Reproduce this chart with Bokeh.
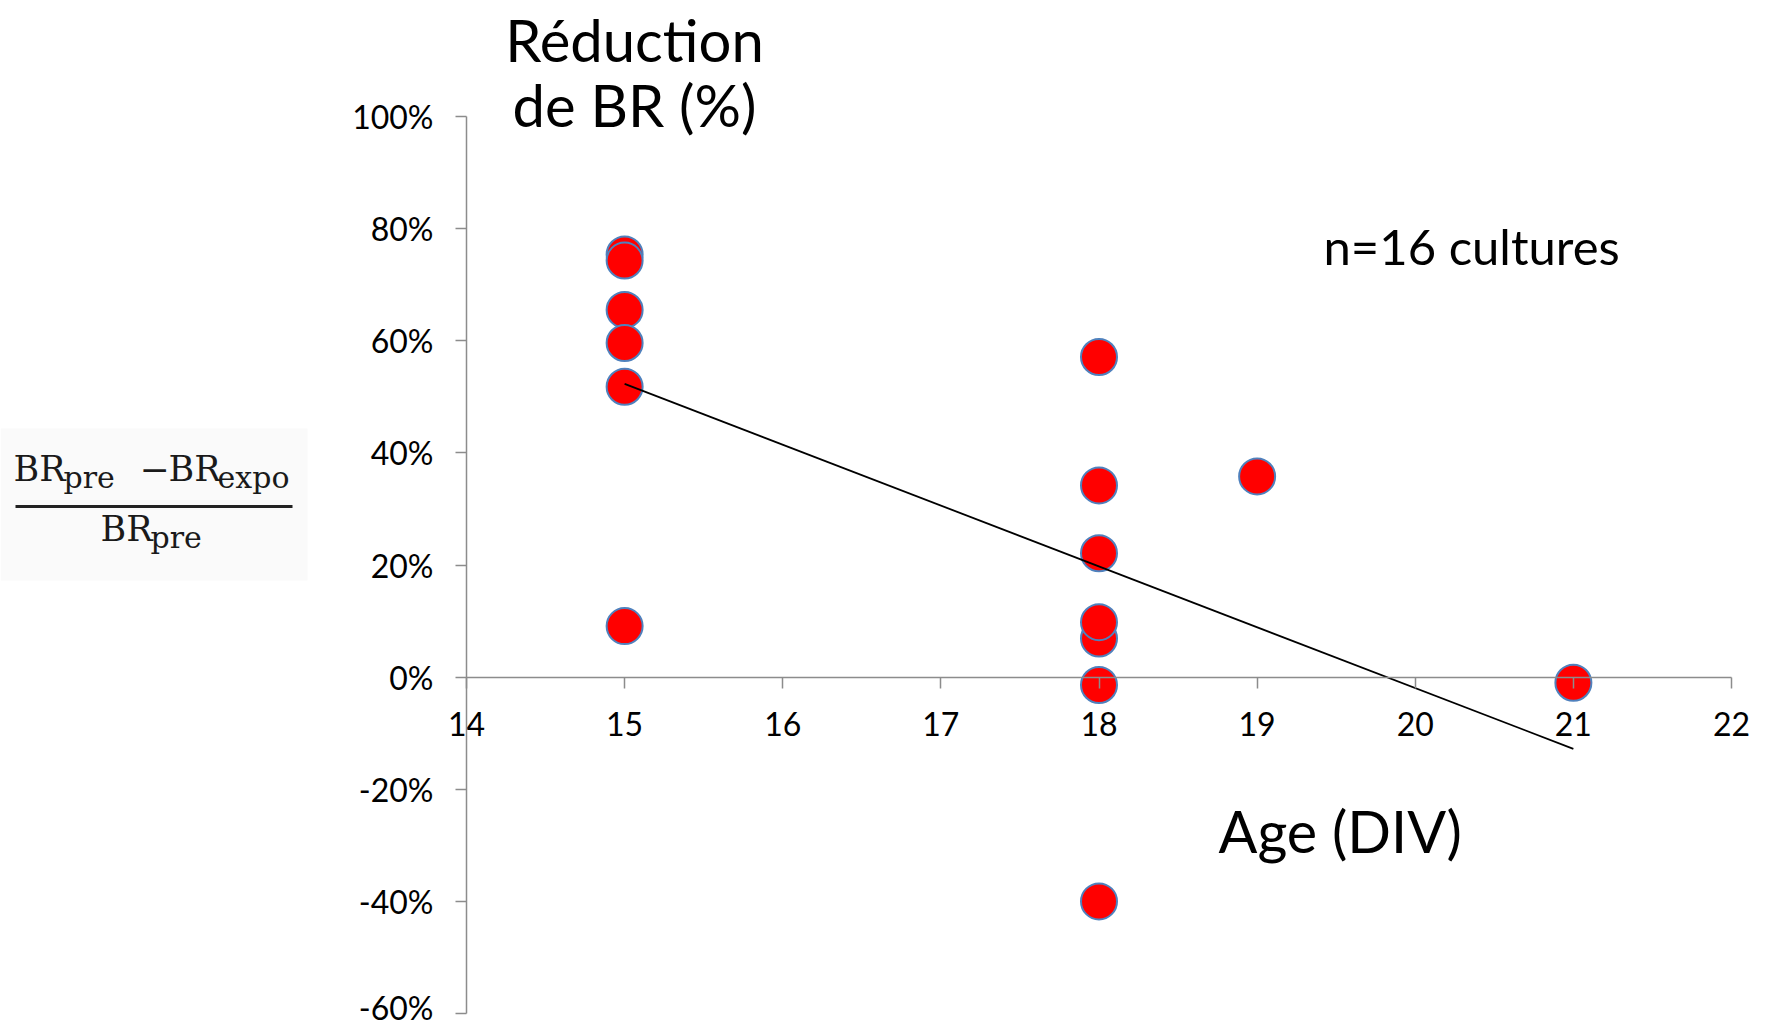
from bokeh.plotting import figure
from bokeh.models import Range1d, FixedTicker, NumeralTickFormatter, Label, Arrow, BoxAnnotation
from bokeh.embed import file_html
from bokeh.resources import INLINE

# ---- data ----
ages = [15, 15, 15, 15, 15, 15, 18, 18, 18, 18, 18, 18, 18, 19, 21]
reductions = [0.754, 0.743, 0.655, 0.596, 0.518, 0.091,
              0.571, 0.342, 0.221, 0.069, 0.098, -0.014, -0.400,
              0.358, -0.010]
trend_x = [15, 21]
trend_y = [0.523, -0.128]
x_ticks = [14, 15, 16, 17, 18, 19, 20, 21, 22]
y_ticks = [-0.6, -0.4, -0.2, 0.0, 0.2, 0.4, 0.6, 0.8, 1.0]

title_lines = ["Réduction", "de BR (%)"]
x_title = "Age (DIV)"
note = "n=16 cultures"

# ---- layout constants (canvas pixels) ----
W, H = 1760, 1026
XMIN, XMAX, YMIN, YMAX = 14, 22, -0.6, 1.0
PX_L, PX_R, PX_T, PX_B = 466, 1731, 116, 1013   # where the axes' ends sit
kx = (PX_R - PX_L) / (XMAX - XMIN)
ky = (PX_B - PX_T) / (YMAX - YMIN)
x0 = XMIN - PX_L / kx
x1 = XMAX + (W - PX_R) / kx
y1 = YMAX + PX_T / ky
y0 = YMIN - (H - PX_B) / ky
BASE_FIX = 19  # label baseline correction (px)


def dx(X):  # canvas px -> data x
    return x0 + X / kx


def dy(Y):  # canvas px -> data y
    return y1 - Y / ky


p = figure(width=W, height=H, output_backend="svg", toolbar_location=None,
           x_range=Range1d(x0, x1), y_range=Range1d(y0, y1),
           min_border=0, min_border_left=0, min_border_right=0,
           min_border_top=0, min_border_bottom=0)
p.outline_line_color = None
p.grid.visible = False
p.background_fill_color = "white"
p.border_fill_color = "white"

AX = "#8c8c8c"
p.xaxis.fixed_location = 0
p.yaxis.fixed_location = XMIN
p.xaxis.bounds = (XMIN, XMAX)
p.yaxis.bounds = (YMIN, YMAX)
p.xaxis.ticker = FixedTicker(ticks=x_ticks)
p.yaxis.ticker = FixedTicker(ticks=y_ticks)
p.yaxis.formatter = NumeralTickFormatter(format="0%")
for ax in (p.xaxis, p.yaxis):
    ax.axis_line_color = AX
    ax.axis_line_width = 1.5
    ax.major_tick_line_color = AX
    ax.major_tick_line_width = 1.5
    ax.major_tick_in = 0
    ax.major_tick_out = 11
    ax.minor_tick_line_color = None
    ax.major_label_text_font = "Lato"
    ax.major_label_text_font_size = "32px"
    ax.major_label_text_color = "black"
p.xaxis.major_label_standoff = 24
p.yaxis.major_label_standoff = 22

# formula background
p.add_layout(BoxAnnotation(left=dx(0), right=dx(307), top=dy(428), bottom=dy(580),
                           fill_color="#fafafa", fill_alpha=1, line_color=None, level="underlay"))

p.scatter(ages, reductions, size=36, fill_color="#ff0000", line_color="#4f81bd", line_width=2)
p.line(trend_x, trend_y, line_color="black", line_width=1.8)


def lab(text, X, Y, font, size, align="left", color="black"):
    p.add_layout(Label(x=dx(X), y=dy(Y - BASE_FIX), text=text, text_font=font,
                       text_font_size=size, text_align=align,
                       text_baseline="alphabetic", text_color=color))


lab(title_lines[0], 634, 58, "Lato", "58px", "center")
lab(title_lines[1], 634, 123, "Lato", "58px", "center")
lab(note, 1323, 264, "Lato", "49px")
lab(x_title, 1218, 849, "Lato", "57.5px")

SERIF = "DejaVu Serif"
FC = "#1a1a1a"
lab("BR", 13, 487, SERIF, "35px", color=FC)
lab("pre", 63, 496, SERIF, "30px", color=FC)
lab("\u2212", 154, 487, SERIF, "36px", "center", color=FC)
lab("BR", 168, 487, SERIF, "35px", color=FC)
lab("expo", 217, 496, SERIF, "30px", color=FC)
lab("BR", 100, 547, SERIF, "35px", color=FC)
lab("pre", 150, 556, SERIF, "30px", color=FC)
p.add_layout(Arrow(x_start=dx(15), y_start=dy(506), x_end=dx(292), y_end=dy(506),
                   end=None, line_color="#222222", line_width=3))

open("out.html", "w").write(file_html(p, INLINE))
